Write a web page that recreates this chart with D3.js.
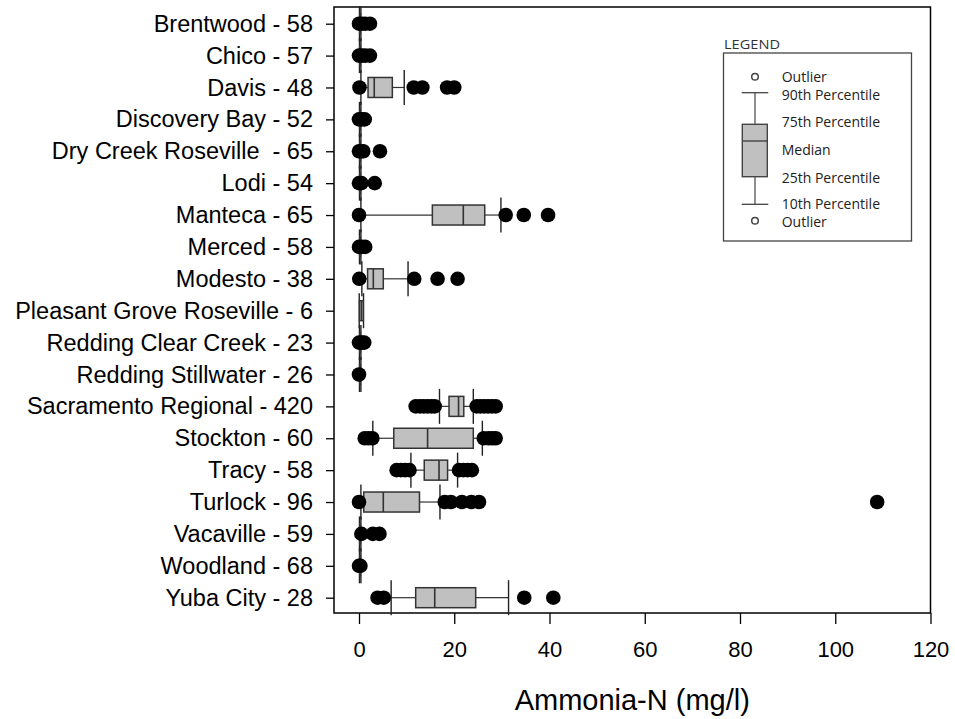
<!DOCTYPE html>
<html>
<head>
<meta charset="utf-8">
<script src="https://cdn.jsdelivr.net/npm/d3@7"></script>
<style>
  html, body { margin: 0; padding: 0; background: #fff; }
  svg { display: block; }
  .ylab text { white-space: pre; }
</style>
</head>
<body>
<script>
// ---- data ----
const categories = [
  "Brentwood - 58", "Chico - 57", "Davis - 48", "Discovery Bay - 52",
  "Dry Creek Roseville  - 65", "Lodi - 54", "Manteca - 65", "Merced - 58",
  "Modesto - 38", "Pleasant Grove Roseville - 6", "Redding Clear Creek - 23",
  "Redding Stillwater - 26", "Sacramento Regional - 420", "Stockton - 60",
  "Tracy - 58", "Turlock - 96", "Vacaville - 59", "Woodland - 68", "Yuba City - 28"
];
const p10    = [0.1, 0.1, 0.4, 0.1, 0.1, 0.1, 0.4, 0.1, 0.6, 0.05, 0.1, 0.1, 16.9, 2.9, 10.9, 0.4, 0.1, 0.1, 6.75];
const q1     = [0.15,0.15,1.9, 0.15,0.15,0.15,15.4,0.15,1.8, 0.1, 0.15,0.15,18.9, 7.3, 13.7, 1.0, 0.15,0.15,11.9];
const median = [0.2, 0.2, 3.2, 0.2, 0.2, 0.2, 21.9,0.2, 3.0, 0.5, 0.2, 0.2, 20.9, 14.4,16.8, 5.1, 0.2, 0.2, 15.9];
const q3     = [0.3, 0.3, 7.0, 0.3, 0.3, 0.3, 26.4,0.3, 5.1, 0.9, 0.3, 0.3, 22.0, 24.0,18.6, 12.7,0.3, 0.3, 24.5];
const p90    = [0.4, 0.4, 9.5, 0.4, 0.4, 0.4, 29.8,0.4, 10.3,0.95,0.4, 0.4, 24.0, 25.9,20.7, 17.0,0.4, 0.4, 31.4];
const outliers = [
  [0, 0.6, 1.3, 2.3],
  [0, 0.6, 1.3, 2.3],
  [0.1, 11.5, 13.3, 18.5, 20.0],
  [0, 0.6, 1.2],
  [0, 0.5, 0.9, 4.4],
  [0, 0.5, 3.3],
  [0, 30.8, 34.6, 39.7],
  [0, 0.6, 1.3],
  [0.05, 11.6, 16.5, 20.7],
  [],
  [0, 0.6, 1.1],
  [0],
  [11.9, 12.8, 13.6, 14.4, 15.2, 15.9, 24.7, 25.5, 26.3, 27.1, 27.9, 28.7],
  [1.2, 2.0, 2.8, 26.2, 27.2, 28.0, 28.7],
  [7.9, 8.8, 9.7, 10.6, 21.0, 21.9, 22.8, 23.7],
  [0, 18.0, 19.3, 21.6, 23.6, 25.2, 108.8],
  [0.5, 2.9, 4.3],
  [0, 0.3],
  [3.9, 5.2, 34.7, 40.8]
];
const xTicks = [0, 20, 40, 60, 80, 100, 120];
const xTitle = "Ammonia-N (mg/l)";
const legendTitle = "LEGEND";
const legendLabels = ["Outlier", "90th Percentile", "75th Percentile", "Median", "25th Percentile", "10th Percentile", "Outlier"];

// ---- layout ----
const W = 955, H = 719;
const plot = { left: 334, right: 930.5, top: 7, bottom: 613 };
const svg = d3.select("body").append("svg").attr("width", W).attr("height", H);

const x = d3.scaleLinear().domain([-5.25, 120]).range([plot.left, plot.right]);
const y = d3.scalePoint().domain(categories).range([23.7, 597.7]);

const FONT = "'Liberation Sans', Arial, sans-serif";

// frame
svg.append("rect")
  .attr("x", plot.left).attr("y", plot.top)
  .attr("width", plot.right - plot.left).attr("height", plot.bottom - plot.top)
  .attr("fill", "none").attr("stroke", "#000").attr("stroke-width", 1.5);

// y axis
const gy = svg.append("g").attr("class", "ylab")
  .attr("transform", `translate(${plot.left},0)`)
  .call(d3.axisLeft(y).tickSize(8).tickSizeOuter(0).tickPadding(13));
gy.select(".domain").remove();
gy.selectAll("line").attr("stroke", "#000").attr("stroke-width", 1.3);
gy.selectAll("text").attr("font-family", FONT).attr("font-size", 23.5).attr("fill", "#000")
  .attr("xml:space", "preserve");

// x axis
const gx = svg.append("g")
  .attr("transform", `translate(0,${plot.bottom})`)
  .call(d3.axisBottom(x).tickValues(xTicks).tickSize(11).tickSizeOuter(0).tickPadding(17));
gx.select(".domain").remove();
gx.selectAll("line").attr("stroke", "#000").attr("stroke-width", 1.3);
gx.selectAll("text").attr("font-family", FONT).attr("font-size", 22).attr("fill", "#000");

svg.append("text")
  .attr("x", (plot.left + plot.right) / 2).attr("y", 710)
  .attr("text-anchor", "middle")
  .attr("font-family", FONT).attr("font-size", 29).attr("fill", "#000")
  .text(xTitle);

// boxes
const BH = 10, CH = 17.5, R = 7.3;
const rows = categories.map((c, i) => ({ c, p10: p10[i], q1: q1[i], med: median[i], q3: q3[i], p90: p90[i], out: outliers[i] }));
const g = svg.append("g");
rows.forEach(d => {
  const cy = y(d.c);
  const gg = g.append("g");
  gg.append("line").attr("x1", x(d.p10)).attr("x2", x(d.q1)).attr("y1", cy).attr("y2", cy)
    .attr("stroke", "#333").attr("stroke-width", 1.2);
  gg.append("line").attr("x1", x(d.q3)).attr("x2", x(d.p90)).attr("y1", cy).attr("y2", cy)
    .attr("stroke", "#333").attr("stroke-width", 1.2);
  [d.p10, d.p90].forEach(v => {
    gg.append("line").attr("x1", x(v)).attr("x2", x(v)).attr("y1", cy - CH).attr("y2", cy + CH)
      .attr("stroke", "#222").attr("stroke-width", 1.4);
  });
  gg.append("rect").attr("x", x(d.q1)).attr("y", cy - BH)
    .attr("width", Math.max(0, x(d.q3) - x(d.q1))).attr("height", 2 * BH)
    .attr("fill", "#c0c0c0").attr("stroke", "#333").attr("stroke-width", 1.5);
  gg.append("line").attr("x1", x(d.med)).attr("x2", x(d.med)).attr("y1", cy - BH).attr("y2", cy + BH)
    .attr("stroke", "#333").attr("stroke-width", 1.6);
});
rows.forEach(d => {
  const cy = y(d.c);
  g.selectAll(null).data(d.out).enter().append("circle")
    .attr("cx", v => x(v)).attr("cy", cy).attr("r", R).attr("fill", "#000");
});

// legend
const L = { x: 723.5, y: 53, w: 188, h: 188 };
const LFONT = "'Open Sans', 'Noto Sans', sans-serif";
svg.append("text").attr("x", 724).attr("y", 48.5)
  .attr("font-family", LFONT).attr("font-size", 12).attr("fill", "#333")
  .attr("textLength", 56).attr("lengthAdjust", "spacingAndGlyphs")
  .text(legendTitle);
svg.append("rect").attr("x", L.x).attr("y", L.y).attr("width", L.w).attr("height", L.h)
  .attr("fill", "#fff").attr("stroke", "#444").attr("stroke-width", 1.3);
const lx = 755;
const ly = { outTop: 76.7, cap90: 92.7, q75: 124.3, med: 141, q25: 176.7, cap10: 204.3, outBot: 220.7 };
const lg = svg.append("g").attr("stroke", "#444").attr("fill", "none");
lg.append("circle").attr("cx", lx).attr("cy", ly.outTop).attr("r", 3.3).attr("stroke-width", 1.5);
lg.append("circle").attr("cx", lx).attr("cy", ly.outBot).attr("r", 3.3).attr("stroke-width", 1.5);
lg.append("line").attr("x1", 741.7).attr("x2", 768.3).attr("y1", ly.cap90).attr("y2", ly.cap90).attr("stroke-width", 1.3);
lg.append("line").attr("x1", 741.7).attr("x2", 768.3).attr("y1", ly.cap10).attr("y2", ly.cap10).attr("stroke-width", 1.3);
lg.append("line").attr("x1", lx).attr("x2", lx).attr("y1", ly.cap90).attr("y2", ly.q75).attr("stroke-width", 1.2);
lg.append("line").attr("x1", lx).attr("x2", lx).attr("y1", ly.q25).attr("y2", ly.cap10).attr("stroke-width", 1.2);
lg.append("rect").attr("x", 742.3).attr("y", ly.q75).attr("width", 25).attr("height", ly.q25 - ly.q75)
  .attr("fill", "#c0c0c0").attr("stroke-width", 1.4);
lg.append("line").attr("x1", 742.3).attr("x2", 767.3).attr("y1", ly.med).attr("y2", ly.med).attr("stroke-width", 1.4);
const labelY = [76.7, 95, 122.3, 150, 177.7, 204.3, 221.7];
svg.append("g").selectAll("text").data(legendLabels).enter().append("text")
  .attr("x", 781.7).attr("y", (d, i) => labelY[i]).attr("dy", "0.35em")
  .attr("font-family", LFONT).attr("font-size", 14).attr("fill", "#222")
  .text(d => d);
</script>
</body>
</html>
